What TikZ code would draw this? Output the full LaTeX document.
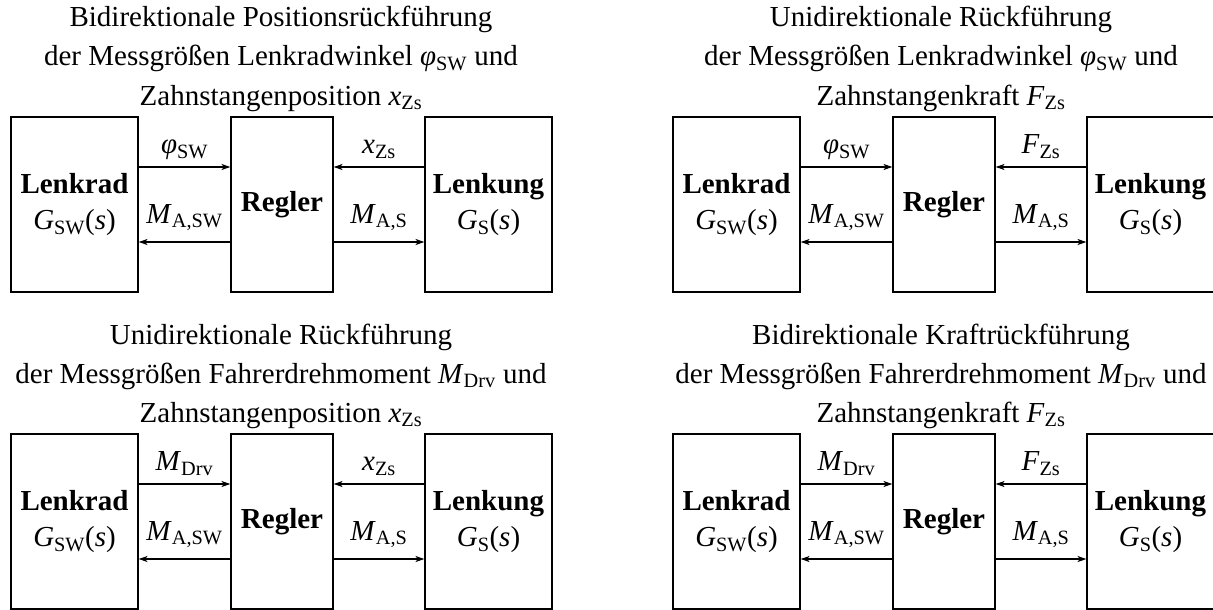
\documentclass[tikz,border=0pt]{standalone}
\usepackage{fontspec}
\setmainfont{Liberation Serif}
\usetikzlibrary{arrows.meta}
\newcommand\mysub[2]{\textit{#1}\textsubscript{#2}}
\tikzset{
  every node/.style={font=\fontsize{29}{36}\selectfont, inner sep=0pt},
  blk/.style={draw, line width=1.1pt, inner sep=0pt, align=center, minimum height=175pt},
  sig/.style={line width=1.1pt, -{Stealth[length=9pt,width=6pt,inset=2.5pt]}},
  ttl/.style={anchor=base},
  lbl/.style={anchor=base}
}
\newcommand\panel[9]{%
\begin{scope}[shift={(#1,#2)}]
\node[ttl] (#3ta) at (#9,27) {#4};
\node[ttl] (#3tb) at (#9,66) {#5};
\node[ttl] (#3tc) at (#9,105) {#6};
\node[blk, minimum width=127pt] (#3lr) at (74.5,204.5) {\textbf{Lenkrad}\\\mysub{G}{SW}(\textit{s})};
\node[blk, minimum width=102pt] (#3rg) at (282,204.5) {\textbf{Regler}};
\node[blk, minimum width=127pt] (#3lk) at (488.5,204.5) {\textbf{Lenkung}\\\mysub{G}{S}(\textit{s})};
\draw[sig] ([yshift=37.5pt]#3lr.east) -- ([yshift=37.5pt]#3rg.west);
\draw[sig] ([yshift=37.5pt]#3lk.west) -- ([yshift=37.5pt]#3rg.east);
\draw[sig] ([yshift=-37.5pt]#3rg.west) -- ([yshift=-37.5pt]#3lr.east);
\draw[sig] ([yshift=-37.5pt]#3rg.east) -- ([yshift=-37.5pt]#3lk.west);
\node[lbl] (#3la) at (184.5,153.5) {#7};
\node[lbl] (#3lb) at (379,153.5) {#8};
\node[lbl] (#3lc) at (184.5,223) {\mysub{M}{A,SW}};
\node[lbl] (#3ld) at (379,223) {\mysub{M}{A,S}};
\end{scope}}
\begin{document}
\begin{tikzpicture}[x=1pt,y=-1pt]
\path[use as bounding box] (0,0) rectangle (1213,610);
\panel{0}{0}{p}{Bidirektionale Positionsrückführung}{der Messgrößen Lenkradwinkel \mysub{φ}{SW} und}{Zahnstangenposition \mysub{x}{Zs}}{\mysub{φ}{SW}}{\mysub{x}{Zs}}{281}
\panel{662}{0}{q}{Unidirektionale Rückführung}{der Messgrößen Lenkradwinkel \mysub{φ}{SW} und}{Zahnstangenkraft \mysub{F}{Zs}}{\mysub{φ}{SW}}{\mysub{F}{Zs}}{279}
\panel{0}{317}{r}{Unidirektionale Rückführung}{der Messgrößen Fahrerdrehmoment \mysub{M}{Drv} und}{Zahnstangenposition \mysub{x}{Zs}}{\mysub{M}{Drv}}{\mysub{x}{Zs}}{281}
\panel{662}{317}{s}{Bidirektionale Kraftrückführung}{der Messgrößen Fahrerdrehmoment \mysub{M}{Drv} und}{Zahnstangenkraft \mysub{F}{Zs}}{\mysub{M}{Drv}}{\mysub{F}{Zs}}{279}
\end{tikzpicture}
\end{document}
